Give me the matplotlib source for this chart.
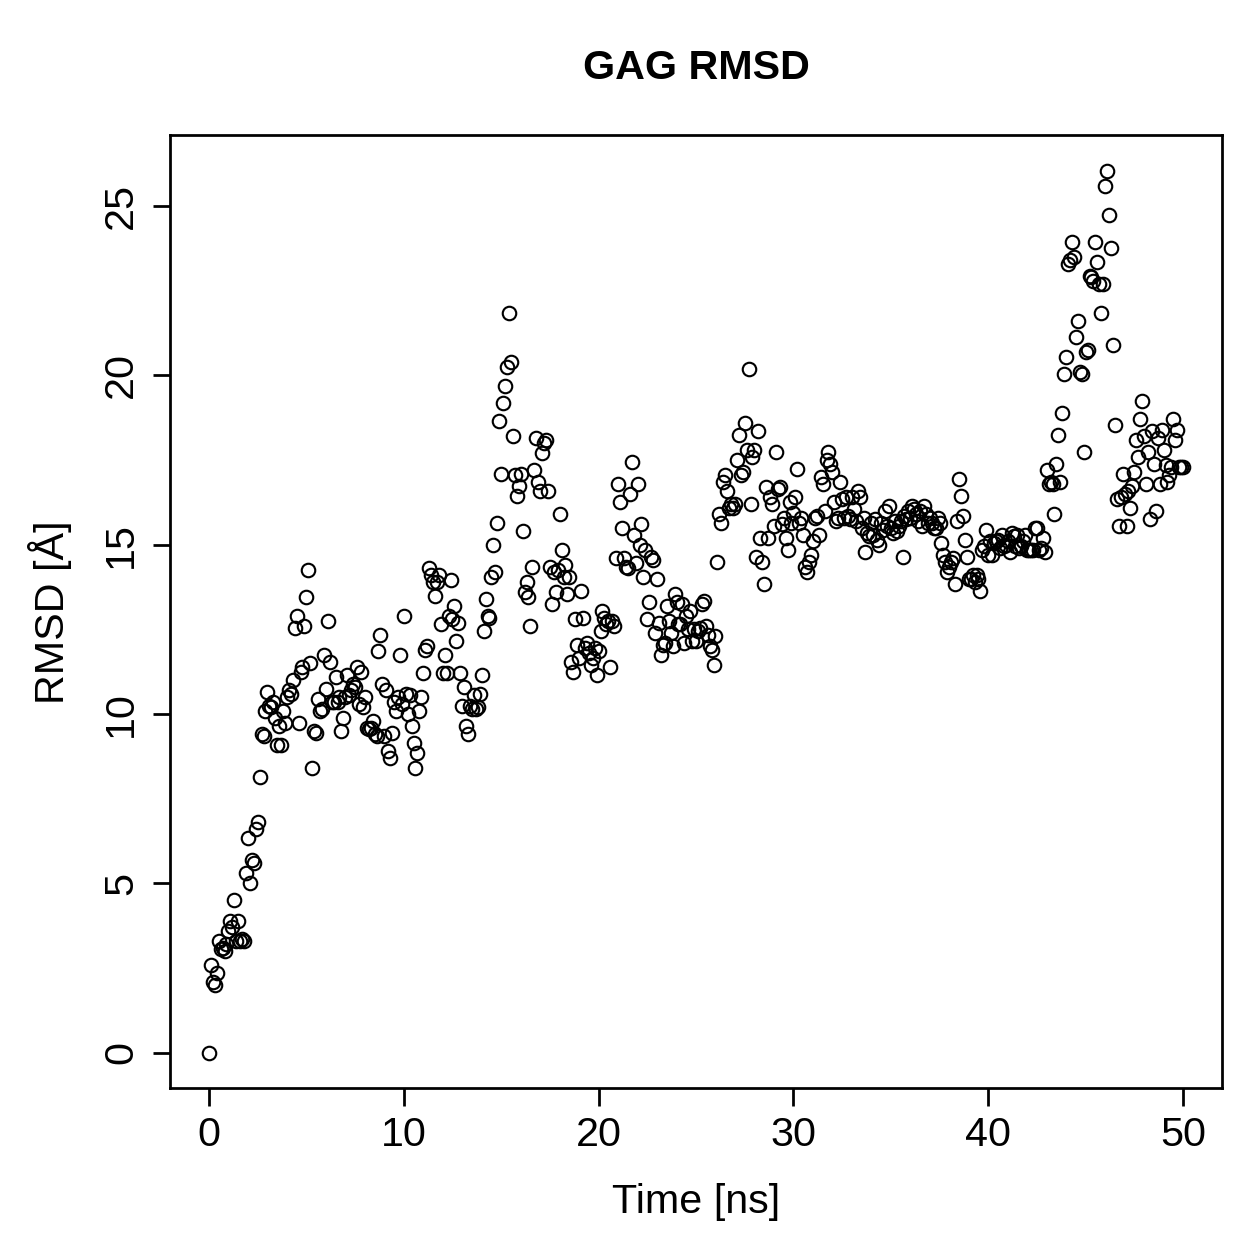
import matplotlib
matplotlib.use("Agg")
import matplotlib.pyplot as plt
import numpy as np

plt.rcParams['font.family'] = ['Liberation Sans', 'DejaVu Sans']

# RMSD values, one row per ns (0.1 ns sampling)
rmsd = [
    0.0, 2.6, 2.1, 2.0, 2.35, 3.3, 3.05, 3.1, 3.0, 3.2,
    3.6, 3.9, 3.7, 4.5, 3.3, 3.9, 3.3, 3.35, 3.3, 5.3,
    6.35, 5.0, 5.7, 5.6, 6.6, 6.8, 8.15, 9.4, 9.35, 10.1,
    10.65, 10.25, 10.2, 10.35, 9.9, 9.1, 9.65, 9.1, 10.1, 9.75,
    10.5, 10.7, 10.6, 11.0, 12.55, 12.9, 9.75, 11.25, 11.4, 12.6,
    13.45, 14.25, 11.5, 8.4, 9.5, 9.45, 10.45, 10.1, 10.15, 11.75,
    10.75, 12.75, 11.55, 10.35, 10.35, 11.1, 10.35, 10.5, 9.5, 9.9,
    10.5, 11.15, 10.55, 10.7, 10.9, 10.8, 11.4, 10.3, 11.25, 10.2,
    10.5, 9.6, 9.55, 9.6, 9.8, 9.4, 9.35, 11.85, 12.35, 10.9,
    9.35, 10.7, 8.9, 8.7, 9.45, 10.35, 10.1, 10.5, 11.75, 10.3,
    12.9, 10.6, 10.0, 10.55, 9.65, 9.15, 8.4, 8.85, 10.1, 10.5,
    11.2, 11.9, 12.0, 14.3, 14.1, 13.9, 13.5, 13.9, 14.1, 12.65,
    11.2, 11.75, 11.2, 12.9, 13.95, 12.8, 13.2, 12.15, 12.7, 11.2,
    10.25, 10.8, 9.65, 9.4, 10.25, 10.15, 10.55, 10.15, 10.2, 10.6,
    11.15, 12.45, 13.4, 12.9, 12.85, 14.05, 15.0, 14.2, 15.65, 18.65,
    17.1, 19.2, 19.7, 20.25, 21.85, 20.4, 18.2, 17.05, 16.45, 16.75,
    17.1, 15.4, 13.6, 13.9, 13.45, 12.6, 14.35, 17.2, 18.15, 16.85,
    16.6, 17.7, 18.0, 18.1, 16.6, 14.35, 13.25, 14.2, 13.6, 14.25,
    15.9, 14.85, 14.05, 14.4, 13.55, 14.05, 11.55, 11.25, 12.8, 12.05,
    11.65, 13.65, 12.85, 11.95, 12.1, 11.8, 11.45, 11.65, 11.95, 11.15,
    11.85, 12.45, 13.05, 12.85, 12.65, 12.75, 11.4, 12.75, 12.6, 14.6,
    16.8, 16.25, 15.5, 14.6, 14.35, 14.3, 16.5, 17.45, 15.3, 14.45,
    16.8, 15.0, 15.6, 14.05, 14.85, 12.8, 13.3, 14.65, 14.55, 12.4,
    14.0, 12.7, 11.75, 12.05, 12.1, 13.2, 12.75, 12.4, 12.0, 13.55,
    13.3, 12.65, 12.65, 13.25, 12.1, 12.9, 12.5, 13.05, 12.15, 12.5,
    12.15, 12.45, 12.55, 13.25, 13.35, 12.6, 12.35, 12.0, 11.9, 11.45,
    12.3, 14.5, 15.9, 15.65, 16.85, 17.05, 16.6, 16.1, 16.2, 16.1,
    16.2, 17.5, 18.25, 17.05, 17.15, 18.6, 17.8, 20.2, 16.2, 17.6,
    17.8, 14.65, 18.35, 15.2, 14.5, 13.85, 16.7, 15.2, 16.4, 16.2,
    15.55, 17.75, 16.65, 16.7, 15.6, 15.8, 15.2, 14.85, 16.25, 15.65,
    15.95, 16.4, 17.25, 15.65, 15.8, 15.3, 14.35, 14.2, 14.5, 14.7,
    15.1, 15.8, 15.85, 15.3, 17.0, 16.8, 16.0, 17.5, 17.75, 17.4,
    17.15, 16.25, 15.7, 15.8, 16.85, 16.35, 15.8, 16.4, 15.85, 15.75,
    16.4, 16.05, 15.7, 16.6, 16.4, 15.5, 15.8, 14.8, 15.35, 15.25,
    15.65, 15.3, 15.75, 15.15, 15.0, 15.65, 15.45, 16.0, 15.55, 16.15,
    15.5, 15.35, 15.7, 15.4, 15.55, 15.7, 14.65, 15.85, 15.75, 16.0,
    15.8, 16.15, 16.05, 15.9, 15.7, 16.0, 15.55, 16.15, 15.9, 15.65,
    15.8, 15.65, 15.5, 15.5, 15.8, 15.65, 15.05, 14.7, 14.5, 14.2,
    14.35, 14.5, 14.6, 13.85, 15.7, 16.95, 16.45, 15.85, 15.15, 14.65,
    14.0, 14.0, 14.1, 13.9, 14.1, 14.0, 13.65, 14.85, 14.95, 15.45,
    14.7, 15.1, 14.7, 15.05, 15.1, 15.15, 14.9, 15.3, 14.95, 15.0,
    15.1, 14.8, 15.35, 15.25, 14.95, 15.3, 14.9, 14.95, 15.1, 15.3,
    14.85, 14.85, 14.85, 14.85, 15.5, 15.5, 14.85, 14.9, 15.2, 14.8,
    17.2, 16.8, 16.85, 16.8, 15.9, 17.4, 18.25, 16.85, 18.9, 20.05,
    20.55, 23.3, 23.4, 23.95, 23.5, 21.15, 21.6, 20.1, 20.05, 17.75,
    20.7, 20.75, 22.95, 22.9, 22.8, 23.95, 23.35, 22.7, 21.85, 22.7,
    25.6, 26.05, 24.75, 23.75, 20.9, 18.55, 16.35, 15.55, 16.4, 17.1,
    16.5, 15.55, 16.6, 16.1, 16.75, 17.15, 18.1, 17.6, 18.7, 19.25,
    18.2, 16.8, 17.75, 15.75, 18.35, 17.4, 16.0, 18.15, 16.8, 18.4,
    17.8, 17.35, 16.85, 17.05, 17.3, 18.7, 18.1, 18.4, 17.3, 17.3,
    17.3,
]
time_step = 0.1  # ns
time = np.arange(len(rmsd)) * time_step

x_ticks = [0, 10, 20, 30, 40, 50]
y_ticks = [0, 5, 10, 15, 20, 25]

fig = plt.figure(figsize=(1259 / 180, 1259 / 180), dpi=180)
ax = fig.add_axes([170 / 1259, 1 - 1088 / 1259, 1052 / 1259, 953 / 1259])

ax.plot(time, rmsd, linestyle='none', marker='o', ms=5.4, mfc='none',
        mec='black', mew=0.85)

ax.set_xlim(-2, 52)
ax.set_ylim(-1.04, 27.1)
ax.set_xticks(x_ticks)
ax.set_yticks(y_ticks)
ax.tick_params(direction='out', length=7, width=1.1, labelsize=16.5, pad=4)
ax.tick_params(axis='y', labelrotation=90, pad=5)
for lab in ax.get_yticklabels():
    lab.set_va('center')
for sp in ax.spines.values():
    sp.set_linewidth(1.1)

fig.text(696 / 1259, 1 - 68 / 1259, 'GAG RMSD', ha='center', va='center',
         fontsize=16.5, fontweight='bold')
fig.text(696 / 1259, 1 - 1202 / 1259, 'Time [ns]', ha='center', va='center',
         fontsize=16.5)
fig.text(50 / 1259, 1 - 612 / 1259, 'RMSD [Å]', ha='center', va='center',
         rotation=90, fontsize=16.5)

fig.savefig('out.png', dpi=180)
